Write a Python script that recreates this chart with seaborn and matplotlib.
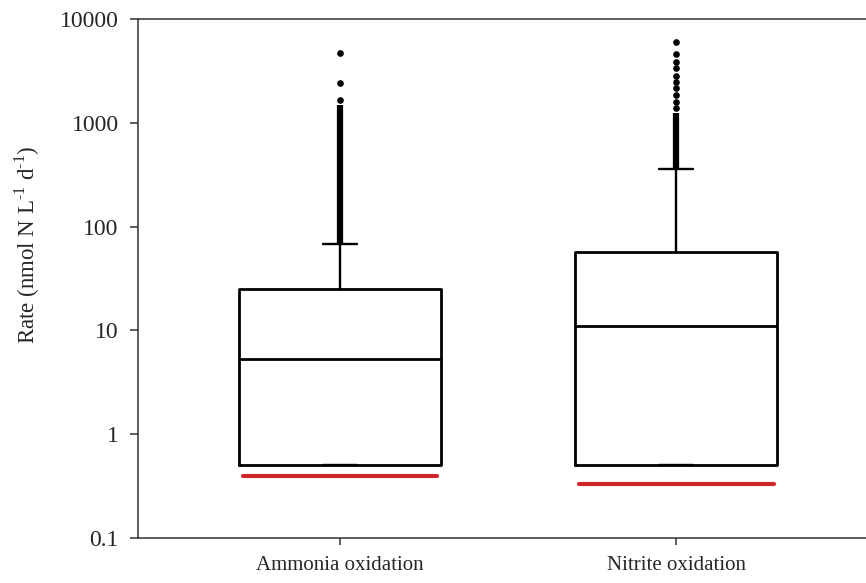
import matplotlib
matplotlib.use("Agg")
import matplotlib.pyplot as plt
import seaborn as sns
import pandas as pd

# box summaries (nmol N L-1 d-1)
processes = ["Ammonia oxidation", "Nitrite oxidation"]
q1 = [0.5, 0.5]
medians = [5.3, 11.0]
q3 = [25.0, 57.0]
whisker_hi = [68.0, 360.0]
detection = [0.40, 0.33]

# outliers: a dense run just above the whisker, then separate points
dense_lo = [68.0, 360.0]
dense_hi = [1480.0, 1240.0]
ammonia_outliers = [1665, 2430, 4730]
nitrite_outliers = [1390, 1590, 1860, 2160, 2460, 2820, 3370, 3850, 4600, 6050]

yticks = [0.1, 1, 10, 100, 1000, 10000]
ytick_labels = ["0.1", "1", "10", "100", "1000", "10000"]


def plot_rates():
    sns.set_style("ticks")
    plt.rcParams["font.family"] = ["Liberation Serif", "DejaVu Serif"]
    plt.rcParams["mathtext.fontset"] = "custom"
    plt.rcParams["mathtext.rm"] = "Liberation Serif"

    fig = plt.figure(figsize=(8.66, 5.83), dpi=100)
    ax = fig.add_axes([0.1594, 0.0772, 0.8406, 0.8902])

    stats = []
    for i, name in enumerate(processes):
        stats.append({"label": name, "q1": q1[i], "med": medians[i], "q3": q3[i],
                      "whislo": q1[i], "whishi": whisker_hi[i], "fliers": []})
    ax.bxp(stats, positions=[0, 1], widths=0.6, capwidths=0.1, showfliers=False,
           boxprops=dict(color="black", linewidth=2.0),
           medianprops=dict(color="black", linewidth=2.0),
           whiskerprops=dict(color="black", linewidth=1.7),
           capprops=dict(color="black", linewidth=1.7))

    # dense stacks of outliers drawn as a solid column
    ax.vlines([0, 1], dense_lo, dense_hi, color="black", linewidth=4.5, zorder=3)

    outliers = pd.DataFrame({
        "process": [processes[0]] * len(ammonia_outliers) + [processes[1]] * len(nitrite_outliers),
        "rate": ammonia_outliers + nitrite_outliers,
    })
    sns.stripplot(data=outliers, x="process", y="rate", order=processes, jitter=False,
                  color="black", size=4.8, linewidth=0, ax=ax, zorder=3)

    # detection limit lines under each box
    ax.hlines(detection, [-0.29, 0.71], [0.29, 1.29], color="#d02828", linewidth=3.0,
              capstyle="round", zorder=3)

    ax.set_yscale("log")
    ax.set_ylim(0.1, 10000)
    ax.set_xlim(-0.601, 1.565)
    ax.set_yticks(yticks)
    ax.set_yticklabels(ytick_labels)
    ax.minorticks_off()
    ax.set_xticks([0, 1])
    ax.set_xticklabels(processes)
    ax.tick_params(axis="both", width=1.1, color="#333333")
    ax.tick_params(axis="y", length=6, pad=8, labelsize=17)
    ax.tick_params(axis="x", length=5, pad=8, labelsize=15)

    for side in ["left", "bottom", "top"]:
        ax.spines[side].set_linewidth(1.1)
        ax.spines[side].set_color("#333333")
    ax.spines["right"].set_visible(False)

    ax.set_xlabel("")
    ax.set_ylabel("Rate (nmol N L$^{\\mathrm{\u20101}}$ d$^{\\mathrm{\u20101}}$)", fontsize=16.5)
    ax.yaxis.set_label_coords(-0.132, 0.565)

    fig.savefig("out.png", dpi=100)


if __name__ == "__main__":
    plot_rates()
